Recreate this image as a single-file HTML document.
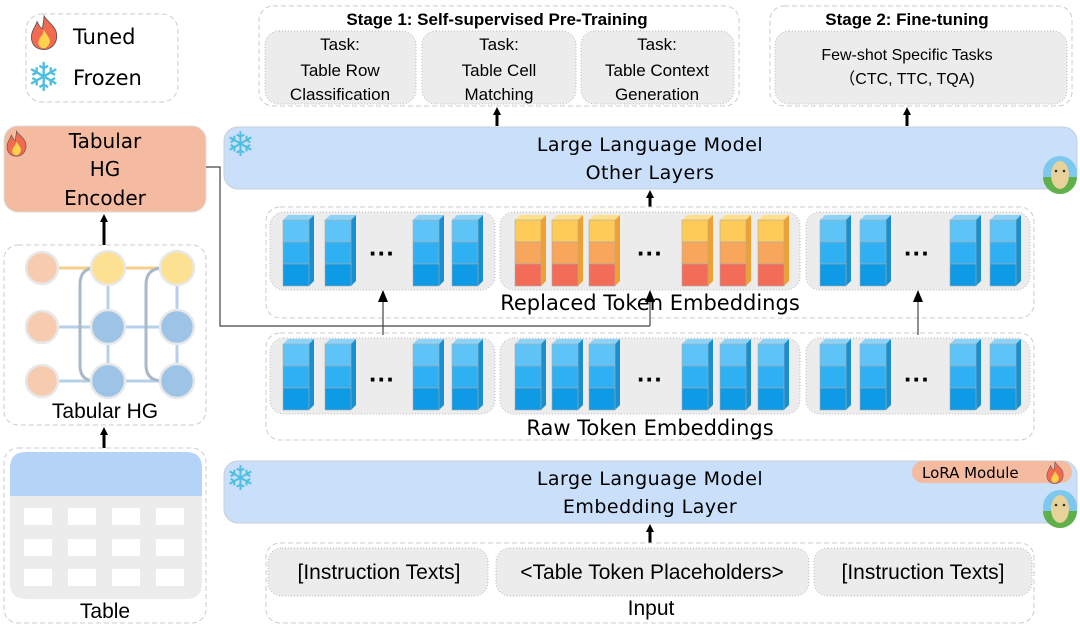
<!DOCTYPE html>
<html><head><meta charset="utf-8"><style>
html,body{margin:0;padding:0;background:#fff;width:1080px;height:627px;overflow:hidden}
svg{display:block}
text{font-family:"Liberation Sans","DejaVu Sans",sans-serif;fill:#000}
.c{font-family:"DejaVu Sans","Liberation Sans",sans-serif}
.sf{font-family:"DejaVu Sans",sans-serif;fill:#4fbfe0}
</style></head><body>
<svg width="1080" height="627" viewBox="0 0 1080 627" xmlns="http://www.w3.org/2000/svg">
<defs>
<marker id="ah" markerWidth="8" markerHeight="8" refX="4" refY="4" orient="auto" markerUnits="userSpaceOnUse"><path d="M0,0 L8,4 L0,8 z" fill="#000"/></marker>
<marker id="ah2" markerWidth="10" markerHeight="10" refX="6" refY="5" orient="auto" markerUnits="userSpaceOnUse"><path d="M0,0 L10,5 L0,10 z" fill="#000"/></marker>
<g id="bc">
<path d="M0,5 l5,-5 h26 l-5,5 z" fill="#8dd3f7"/>
<path d="M26,5 l5,-5 v66 l-5,5 z" fill="#1a8fd0"/>
<rect x="0" y="5" width="26" height="22" fill="#5ec3f7" stroke="#aaa" stroke-width="0.6"/>
<rect x="0" y="27" width="26" height="22" fill="#2fb0f3" stroke="#aaa" stroke-width="0.6"/>
<rect x="0" y="49" width="26" height="22" fill="#0f9ae6" stroke="#aaa" stroke-width="0.6"/>
</g>
<g id="oc">
<path d="M0,5 l5,-5 h26 l-5,5 z" fill="#ffe08a"/>
<path d="M26,5 l5,-5 v66 l-5,5 z" fill="#f0a030"/>
<rect x="0" y="5" width="26" height="22" fill="#fecb58" stroke="#aaa" stroke-width="0.6"/>
<rect x="0" y="27" width="26" height="22" fill="#f7a65c" stroke="#aaa" stroke-width="0.6"/>
<rect x="0" y="49" width="26" height="22" fill="#f26c58" stroke="#aaa" stroke-width="0.6"/>
</g>
<g id="fire">
<path d="M10,0 C14,6 20,8 19,16 C18,22 13,24 10,24 C5,24 1,21 1,15 C1,10 4,8 5,4 C7,8 8,9 9,9 C9,6 10,3 10,0z" fill="#f26a4f" stroke="#555" stroke-width="0.6"/>
<path d="M10,10 C12,14 15,16 14,19 C13,22 11,23 10,23 C7,23 6,21 6,19 C6,16 8,15 9,13z" fill="#fcd34d"/>
</g>
<g id="llama">
<circle cx="0" cy="0" r="17" fill="#7cc8ee"/>
<path d="M-17,4 A17,17 0 0 0 17,4 z" fill="#5fb04a"/>
<ellipse cx="0" cy="2" rx="9" ry="14" fill="#e7d29a"/>
<circle cx="-4" cy="-2" r="1.3" fill="#333"/><circle cx="4" cy="-2" r="1.3" fill="#333"/>
</g>
</defs>

<!-- Legend -->
<rect x="26" y="14" width="152" height="88" rx="16" fill="#fff" stroke="#ccc" stroke-dasharray="5,3"/>
<use href="#fire" transform="translate(30,16) scale(1.4)"/>
<text x="73" y="44" font-size="21" class="c">Tuned</text>
<text x="27" y="91" font-size="40" class="sf">❄</text>
<text x="73" y="85" font-size="21" class="c">Frozen</text>

<!-- Stage 1 -->
<rect x="259" y="6" width="480" height="100" rx="14" fill="#fff" stroke="#ccc" stroke-dasharray="5,3"/>
<text x="497" y="25" font-size="17" font-weight="bold" text-anchor="middle">Stage 1: Self-supervised Pre-Training</text>
<rect x="265" y="31" width="151" height="73" rx="14" fill="#ececec" stroke="#bbb" stroke-dasharray="1,2"/>
<rect x="422" y="31" width="154" height="73" rx="14" fill="#ececec" stroke="#bbb" stroke-dasharray="1,2"/>
<rect x="581" y="31" width="153" height="73" rx="14" fill="#ececec" stroke="#bbb" stroke-dasharray="1,2"/>
<g font-size="17" text-anchor="middle">
<text x="340" y="50">Task:</text><text x="340" y="76">Table Row</text><text x="340" y="100">Classification</text>
<text x="499" y="50">Task:</text><text x="499" y="76">Table Cell</text><text x="499" y="100">Matching</text>
<text x="657" y="50">Task:</text><text x="657" y="76">Table Context</text><text x="657" y="100">Generation</text>
</g>
<!-- Stage 2 -->
<rect x="770" y="6" width="302" height="100" rx="14" fill="#fff" stroke="#ccc" stroke-dasharray="5,3"/>
<text x="907" y="25" font-size="17" font-weight="bold" text-anchor="middle">Stage 2: Fine-tuning</text>
<rect x="775" y="31" width="292" height="73" rx="14" fill="#ececec" stroke="#bbb" stroke-dasharray="1,2"/>
<text x="907" y="60" font-size="16" text-anchor="middle">Few-shot Specific Tasks</text>
<text x="907" y="84" font-size="16" text-anchor="middle">（CTC, TTC, TQA)</text>

<line x1="497" y1="126" x2="497" y2="111" stroke="#000" stroke-width="3" marker-end="url(#ah)"/>
<line x1="907" y1="126" x2="907" y2="111" stroke="#000" stroke-width="3" marker-end="url(#ah)"/>

<!-- LLM other layers -->
<rect x="224" y="127" width="853" height="62" rx="14" fill="#c9dffa" stroke="#c8cfd8"/>
<text x="226" y="156" font-size="34" class="sf">❄</text>
<text x="650" y="151" font-size="19" text-anchor="middle" class="c" letter-spacing="0.5">Large Language Model</text>
<text x="650" y="179" font-size="19" text-anchor="middle" class="c" letter-spacing="0.5">Other Layers</text>
<use href="#llama" x="1060" y="173"/>
<line x1="650" y1="208" x2="650" y2="194" stroke="#000" stroke-width="3" marker-end="url(#ah)"/>

<!-- Tabular HG encoder -->
<rect x="4" y="126" width="202" height="86" rx="14" fill="#f4bba0" stroke="#ddd"/>
<use href="#fire" transform="translate(6,131) scale(1.05)"/>
<text x="105" y="148" font-size="20" text-anchor="middle" class="c">Tabular</text>
<text x="105" y="176" font-size="20" text-anchor="middle" class="c">HG</text>
<text x="105" y="205" font-size="20" text-anchor="middle" class="c">Encoder</text>

<!-- Replaced token embeddings -->
<rect x="266" y="207" width="768" height="111" rx="14" fill="#fff" stroke="#ccc" stroke-dasharray="5,3"/>
<rect x="270" y="212" width="225" height="78" rx="14" fill="#ececec" stroke="#bbb" stroke-dasharray="1,2"/>
<rect x="500" y="212" width="300" height="78" rx="14" fill="#ececec" stroke="#bbb" stroke-dasharray="1,2"/>
<rect x="806" y="212" width="224" height="78" rx="14" fill="#ececec" stroke="#bbb" stroke-dasharray="1,2"/>
<g transform="translate(0,215)">
<use href="#bc" x="283"/><use href="#bc" x="325"/><use href="#bc" x="413"/><use href="#bc" x="452"/>
<use href="#oc" x="515"/><use href="#oc" x="552"/><use href="#oc" x="589"/><use href="#oc" x="682"/><use href="#oc" x="720"/><use href="#oc" x="758"/>
<use href="#bc" x="820"/><use href="#bc" x="860"/><use href="#bc" x="950"/><use href="#bc" x="990"/>
</g>
<g font-size="26" text-anchor="middle" font-weight="bold">
<text x="382" y="262">···</text><text x="650" y="262">···</text><text x="917" y="262">···</text>
</g>
<text x="650" y="310" font-size="21" text-anchor="middle" class="c">Replaced Token Embeddings</text>

<!-- Raw token embeddings -->
<rect x="266" y="333" width="768" height="107" rx="14" fill="#fff" stroke="#ccc" stroke-dasharray="5,3"/>
<rect x="270" y="338" width="225" height="76" rx="14" fill="#ececec" stroke="#bbb" stroke-dasharray="1,2"/>
<rect x="500" y="338" width="300" height="76" rx="14" fill="#ececec" stroke="#bbb" stroke-dasharray="1,2"/>
<rect x="806" y="338" width="224" height="76" rx="14" fill="#ececec" stroke="#bbb" stroke-dasharray="1,2"/>
<g transform="translate(0,339)">
<use href="#bc" x="283"/><use href="#bc" x="325"/><use href="#bc" x="413"/><use href="#bc" x="452"/>
<use href="#bc" x="515"/><use href="#bc" x="552"/><use href="#bc" x="589"/><use href="#bc" x="682"/><use href="#bc" x="720"/><use href="#bc" x="758"/>
<use href="#bc" x="820"/><use href="#bc" x="860"/><use href="#bc" x="950"/><use href="#bc" x="990"/>
</g>
<g font-size="26" text-anchor="middle" font-weight="bold">
<text x="382" y="388">···</text><text x="650" y="388">···</text><text x="917" y="388">···</text>
</g>
<text x="650" y="435" font-size="21" text-anchor="middle" class="c">Raw Token Embeddings</text>

<!-- connectors (drawn on top) -->
<polyline points="206,167 220,167 220,326 650,326" fill="none" stroke="#444" stroke-width="1.2"/>
<line x1="650" y1="326" x2="650" y2="300" stroke="#444" stroke-width="1.2"/>
<path d="M645,302 L650,290 L655,302 z" fill="#000"/>
<line x1="383" y1="335" x2="383" y2="300" stroke="#444" stroke-width="1.2"/>
<path d="M378,302 L383,290 L388,302 z" fill="#000"/>
<line x1="918" y1="335" x2="918" y2="300" stroke="#444" stroke-width="1.2"/>
<path d="M913,302 L918,290 L923,302 z" fill="#000"/>

<!-- LLM Embedding layer -->
<rect x="224" y="461" width="853" height="62" rx="14" fill="#c9dffa" stroke="#c8cfd8"/>
<text x="226" y="490" font-size="34" class="sf">❄</text>
<text x="650" y="485" font-size="19" text-anchor="middle" class="c" letter-spacing="0.5">Large Language Model</text>
<text x="650" y="513" font-size="19" text-anchor="middle" class="c" letter-spacing="0.5">Embedding Layer</text>
<rect x="912" y="461" width="160" height="22" rx="11" fill="#f4bba0"/>
<text x="922" y="478" font-size="15" class="c">LoRA Module</text>
<use href="#fire" transform="translate(1046,462) scale(0.9)"/>
<use href="#llama" x="1060" y="507"/>
<line x1="650" y1="543" x2="650" y2="528" stroke="#000" stroke-width="3" marker-end="url(#ah)"/>

<!-- Input -->
<rect x="266" y="543" width="768" height="80" rx="14" fill="#fff" stroke="#ccc" stroke-dasharray="5,3"/>
<rect x="268" y="548" width="220" height="48" rx="14" fill="#ececec" stroke="#bbb" stroke-dasharray="1,2"/>
<rect x="496" y="548" width="313" height="48" rx="14" fill="#ececec" stroke="#bbb" stroke-dasharray="1,2"/>
<rect x="814" y="548" width="218" height="48" rx="14" fill="#ececec" stroke="#bbb" stroke-dasharray="1,2"/>
<g font-size="21" text-anchor="middle">
<text x="379" y="579">[Instruction Texts]</text>
<text x="652" y="579">&lt;Table Token Placeholders&gt;</text>
<text x="923" y="579">[Instruction Texts]</text>
<text x="651" y="615">Input</text>
</g>

<!-- Tabular HG -->
<line x1="104" y1="245" x2="104" y2="218" stroke="#000" stroke-width="3" marker-end="url(#ah)"/>
<rect x="4" y="245" width="202" height="180" rx="14" fill="#fff" stroke="#ccc" stroke-dasharray="5,3"/>
<g stroke-width="3" fill="none">
<line x1="42" y1="268" x2="176" y2="268" stroke="#f6cf8a"/>
<line x1="42" y1="327" x2="176" y2="327" stroke="#b7d0ea"/>
<line x1="42" y1="381" x2="176" y2="381" stroke="#b7d0ea"/>
<line x1="108" y1="268" x2="108" y2="381" stroke="#b7d0ea"/>
<line x1="177" y1="268" x2="177" y2="381" stroke="#b7d0ea"/>
<path d="M95,268 Q80,268 80,285 V365 Q80,381 95,381" stroke="#a9b9c9"/>
<path d="M163,268 Q146,268 146,285 V365 Q146,381 163,381" stroke="#a9b9c9"/>
</g>
<g stroke="#e8e8e8" stroke-width="2.5">
<circle cx="42" cy="268" r="16" fill="#f6cbb0"/>
<circle cx="42" cy="327" r="16" fill="#f6cbb0"/>
<circle cx="42" cy="381" r="16" fill="#f6cbb0"/>
<circle cx="108" cy="268" r="17" fill="#fde192"/>
<circle cx="177" cy="268" r="17" fill="#fde192"/>
<circle cx="108" cy="327" r="17" fill="#9dc3e6"/>
<circle cx="177" cy="327" r="17" fill="#9dc3e6"/>
<circle cx="108" cy="381" r="17" fill="#9dc3e6"/>
<circle cx="177" cy="381" r="17" fill="#9dc3e6"/>
</g>
<text x="105" y="418" font-size="21" text-anchor="middle">Tabular HG</text>

<!-- Table -->
<line x1="104" y1="448" x2="104" y2="431" stroke="#000" stroke-width="3" marker-end="url(#ah)"/>
<rect x="4" y="448" width="202" height="175" rx="14" fill="#fff" stroke="#ccc" stroke-dasharray="5,3"/>
<path d="M10,468 Q10,452 26,452 H186 Q202,452 202,468 V496 H10 z" fill="#b4d3f7"/>
<path d="M10,496 H202 V583 Q202,599 186,599 H26 Q10,599 10,583 z" fill="#ececec"/>
<g fill="#fff">
<rect x="24" y="508" width="28" height="17"/><rect x="68" y="508" width="28" height="17"/><rect x="112" y="508" width="28" height="17"/><rect x="156" y="508" width="28" height="17"/>
<rect x="24" y="539" width="28" height="17"/><rect x="68" y="539" width="28" height="17"/><rect x="112" y="539" width="28" height="17"/><rect x="156" y="539" width="28" height="17"/>
<rect x="24" y="569" width="28" height="17"/><rect x="68" y="569" width="28" height="17"/><rect x="112" y="569" width="28" height="17"/><rect x="156" y="569" width="28" height="17"/>
</g>
<text x="105" y="618" font-size="21" text-anchor="middle">Table</text>
</svg>
</body></html>
